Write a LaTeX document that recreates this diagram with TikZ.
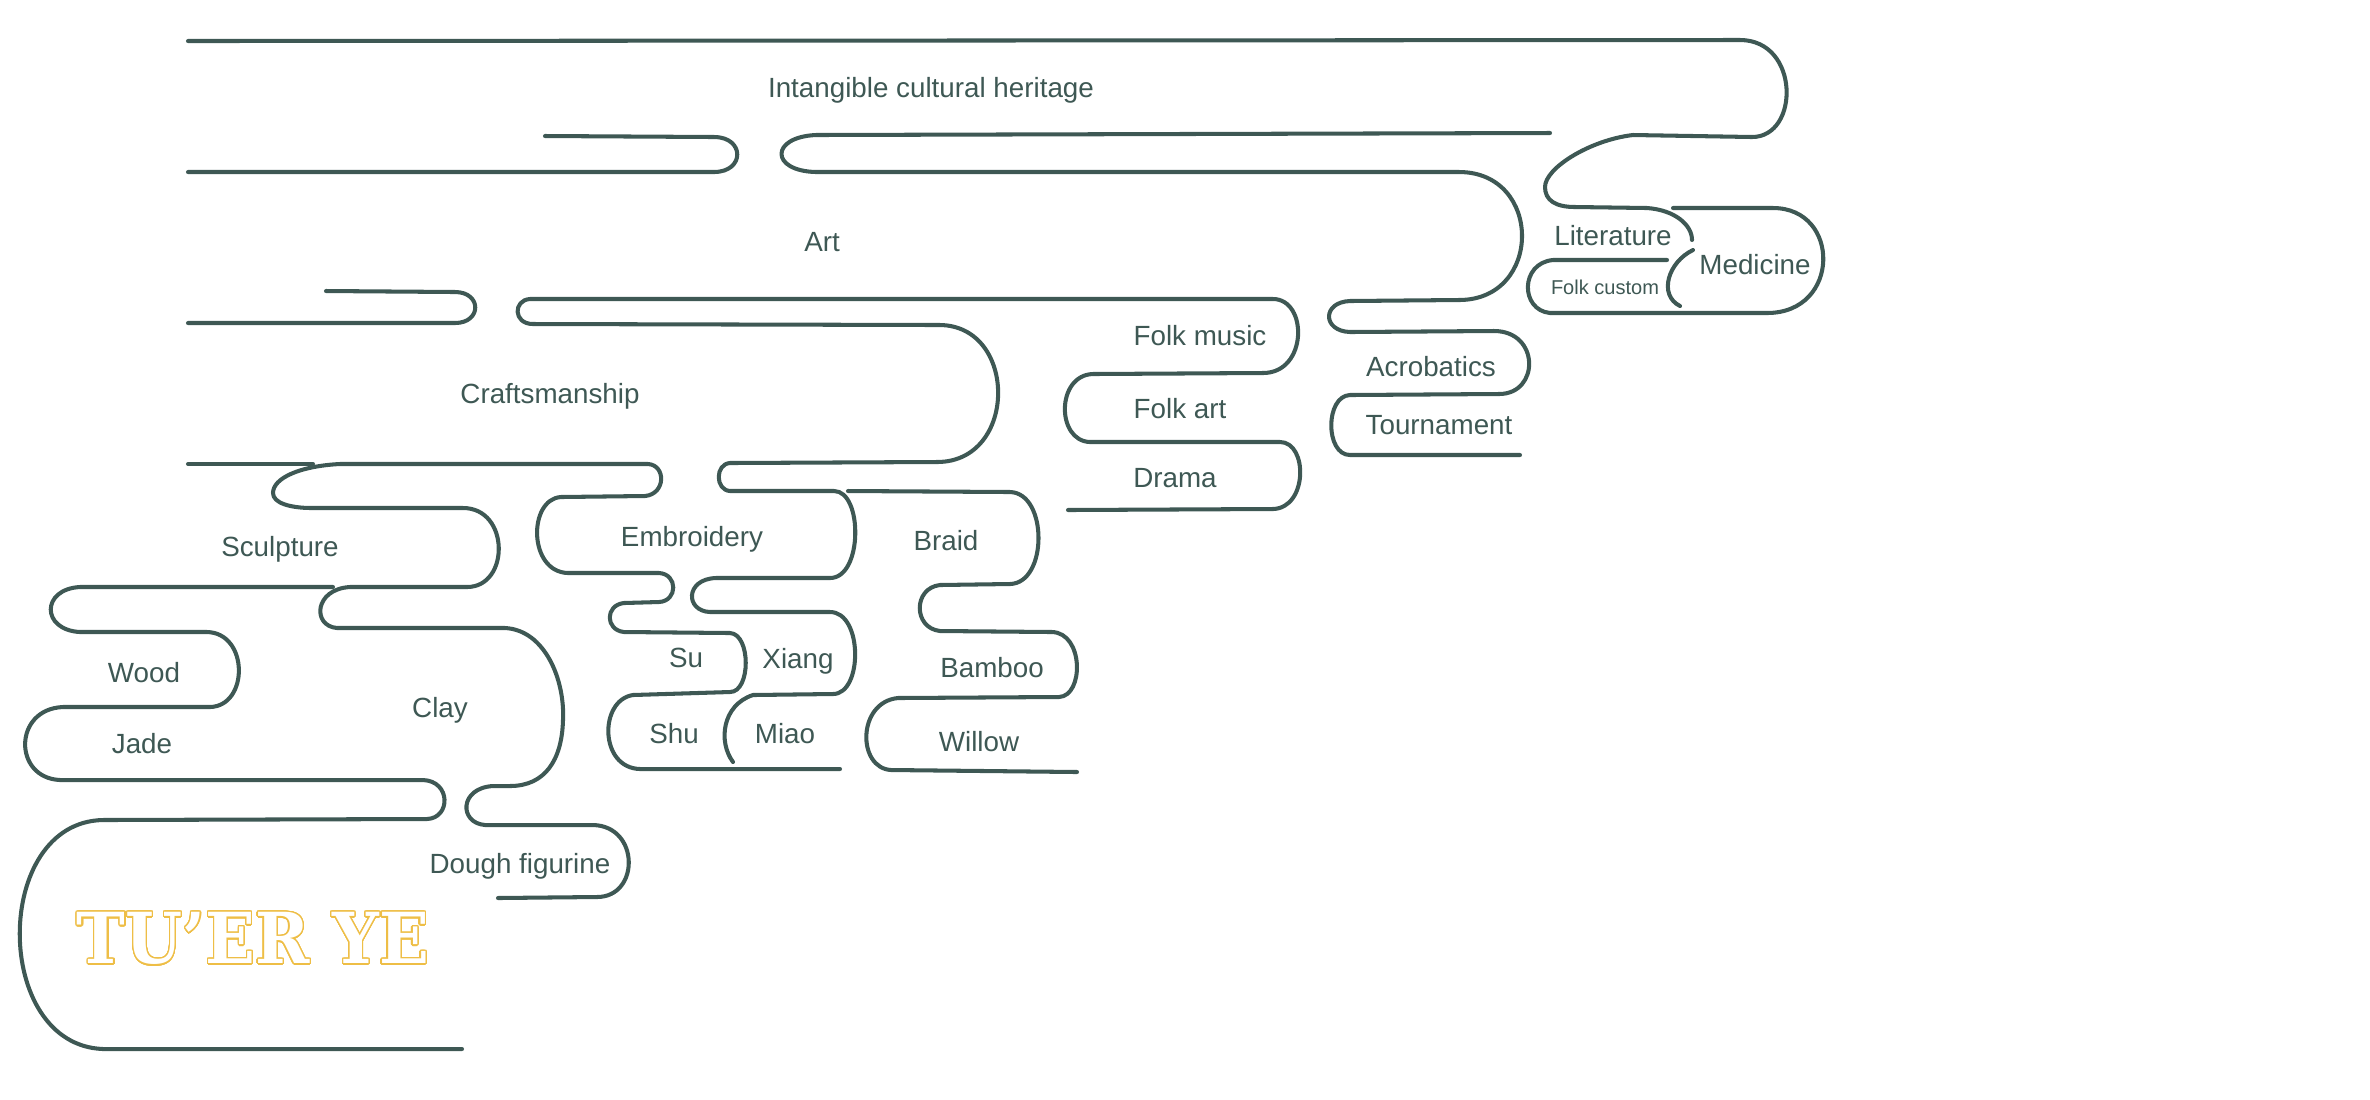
\documentclass[tikz,border=0pt]{standalone}
\usepackage{fontspec}
\setmainfont{Liberation Sans}
\newfontfamily\tuerfont{DejaVu Serif}
\usepackage[copies]{contour}
\contourlength{0.4pt}
\contournumber{32}
\definecolor{cloudink}{RGB}{62,88,84}
\definecolor{tueryellow}{RGB}{238,190,70}
\tikzset{
  cloud/.style={draw=cloudink,line width=1.15pt,line cap=round,line join=round},
  lbl/.style={text=cloudink,inner sep=0pt,text depth=0pt,font=\fontsize{7.9}{9}\selectfont},
  smalllbl/.style={lbl,font=\fontsize{5.7}{7}\selectfont},
  titlelbl/.style={inner sep=0pt,text depth=0pt,font=\tuerfont\bfseries\fontsize{20}{24}\selectfont}
}

\begin{document}
\begin{tikzpicture}[x=0.01cm,y=-0.01cm]
\useasboundingbox (0,0) rectangle (2370,1099);
% heritage band
\draw[cloud] (188,41) -- (1740,40) .. controls (1800,40) and (1800,137) .. (1752,137)
  -- (1633,135) .. controls (1590,140) and (1545,168) .. (1545,187)
  .. controls (1545,200) and (1555,207) .. (1575,207) -- (1647,208)
  .. controls (1675,210) and (1692,225) .. (1692,240);
\draw[cloud] (188,172) -- (714,172) .. controls (745,172) and (745,137) .. (714,137) -- (545,136);
\draw[cloud] (1550,133) -- (816,135) .. controls (770,137) and (770,171) .. (816,172)
  -- (1459,172) .. controls (1543,172) and (1543,300) .. (1459,300)
  -- (1350,301) .. controls (1322,302) and (1322,331) .. (1350,332)
  -- (1494,331) .. controls (1540,331) and (1540,394) .. (1499,394)
  -- (1350,395) .. controls (1325,396) and (1325,455) .. (1350,455) -- (1520,455);
% art band
\draw[cloud] (188,323) -- (455,323) .. controls (482,323) and (482,292) .. (455,292) -- (326,291);
\draw[cloud] (1068,510) -- (1273,509) .. controls (1308,508) and (1308,442) .. (1280,442)
  -- (1090,442) .. controls (1056,441) and (1056,375) .. (1093,374)
  -- (1263,373) .. controls (1308,373) and (1308,299) .. (1273,299)
  -- (530,299) .. controls (513,300) and (513,324) .. (533,324)
  -- (940,325) .. controls (1018,326) and (1018,462) .. (937,462)
  -- (730,463) .. controls (715,464) and (715,490) .. (730,491)
  -- (834,491) .. controls (863,491) and (863,578) .. (830,578)
  -- (716,578) .. controls (685,579) and (685,611) .. (710,612)
  -- (830,612) .. controls (863,612) and (863,694) .. (833,694)
  -- (753,695) .. controls (722,705) and (718,742) .. (733,762);
% craftsmanship band
\draw[cloud] (188,464) -- (313,464);
\draw[cloud] (840,769) -- (640,769) .. controls (599,768) and (599,700) .. (633,695)
  -- (730,692) .. controls (751,692) and (751,634) .. (730,633)
  -- (624,632) .. controls (605,630) and (605,605) .. (624,603)
  -- (659,602) .. controls (678,601) and (678,574) .. (659,573)
  -- (568,573) .. controls (528,572) and (528,499) .. (561,497)
  -- (645,496) .. controls (666,494) and (666,465) .. (648,464)
  -- (340,464) .. controls (300,466) and (273,478) .. (273,493)
  .. controls (273,503) and (290,508) .. (312,508)
  -- (463,508) .. controls (510,508) and (510,587) .. (467,587)
  -- (350,587) .. controls (314,589) and (312,626) .. (337,628)
  -- (505,628) .. controls (545,630) and (565,680) .. (563,720)
  .. controls (562,760) and (545,786) .. (510,786)
  -- (493,786) .. controls (459,788) and (459,823) .. (485,825)
  -- (593,825) .. controls (640,826) and (640,897) .. (597,897) -- (498,898);
\draw[cloud] (333,587) -- (80,587) .. controls (41,589) and (41,630) .. (80,632)
  -- (207,632) .. controls (249,633) and (249,706) .. (210,707)
  -- (63,707) .. controls (13,709) and (13,778) .. (60,780)
  -- (423,780) .. controls (451,781) and (451,818) .. (427,819)
  -- (103,820) .. controls (-8,822) and (-8,1045) .. (103,1049) -- (462,1049);
\draw[cloud] (848,491) -- (1010,492) .. controls (1048,493) and (1048,583) .. (1010,584)
  -- (940,585) .. controls (913,588) and (913,628) .. (940,631)
  -- (1052,632) .. controls (1084,633) and (1084,696) .. (1059,697)
  -- (898,698) .. controls (857,702) and (857,768) .. (891,770) -- (1077,772);
% literature and medicine
\draw[cloud] (1667,260) -- (1553,260) .. controls (1520,263) and (1520,310) .. (1550,313)
  -- (1767,313) .. controls (1841,313) and (1841,208) .. (1773,208) -- (1673,208);
\draw[cloud] (1693,250) .. controls (1668,262) and (1658,295) .. (1680,306);
% labels
\node[lbl] (heritage) at (931,87) {Intangible cultural heritage};
\node[lbl] (art) at (822,242) {Art};
\node[lbl] (craft) at (550,393) {Craftsmanship};
\node[lbl] (music) at (1200,335) {Folk music};
\node[lbl] (folkart) at (1180,408) {Folk art};
\node[lbl] (drama) at (1175,478) {Drama};
\node[lbl] (acro) at (1431,366) {Acrobatics};
\node[lbl] (tourn) at (1439,425) {Tournament};
\node[lbl] (lit) at (1613,235) {Literature};
\node[smalllbl] (custom) at (1605,287) {Folk custom};
\node[lbl] (med) at (1755,264) {Medicine};
\node[lbl] (sculpt) at (280,546) {Sculpture};
\node[lbl] (embro) at (692,536) {Embroidery};
\node[lbl] (braid) at (946,540) {Braid};
\node[lbl] (su) at (686,658) {Su};
\node[lbl] (xiang) at (798,658) {Xiang};
\node[lbl] (shu) at (674,733) {Shu};
\node[lbl] (miao) at (785,733) {Miao};
\node[lbl] (bamboo) at (992,667) {Bamboo};
\node[lbl] (willow) at (979,741) {Willow};
\node[lbl] (wood) at (144,672) {Wood};
\node[lbl] (jade) at (142,743) {Jade};
\node[lbl] (clay) at (440,707) {Clay};
\node[lbl] (dough) at (520,863) {Dough figurine};
\node[titlelbl] (tuer) at (253,938)
  {\scalebox{0.93}[1]{\contour{tueryellow}{\textcolor{white}{TU’ER YE}}}};
\end{tikzpicture}
\end{document}
